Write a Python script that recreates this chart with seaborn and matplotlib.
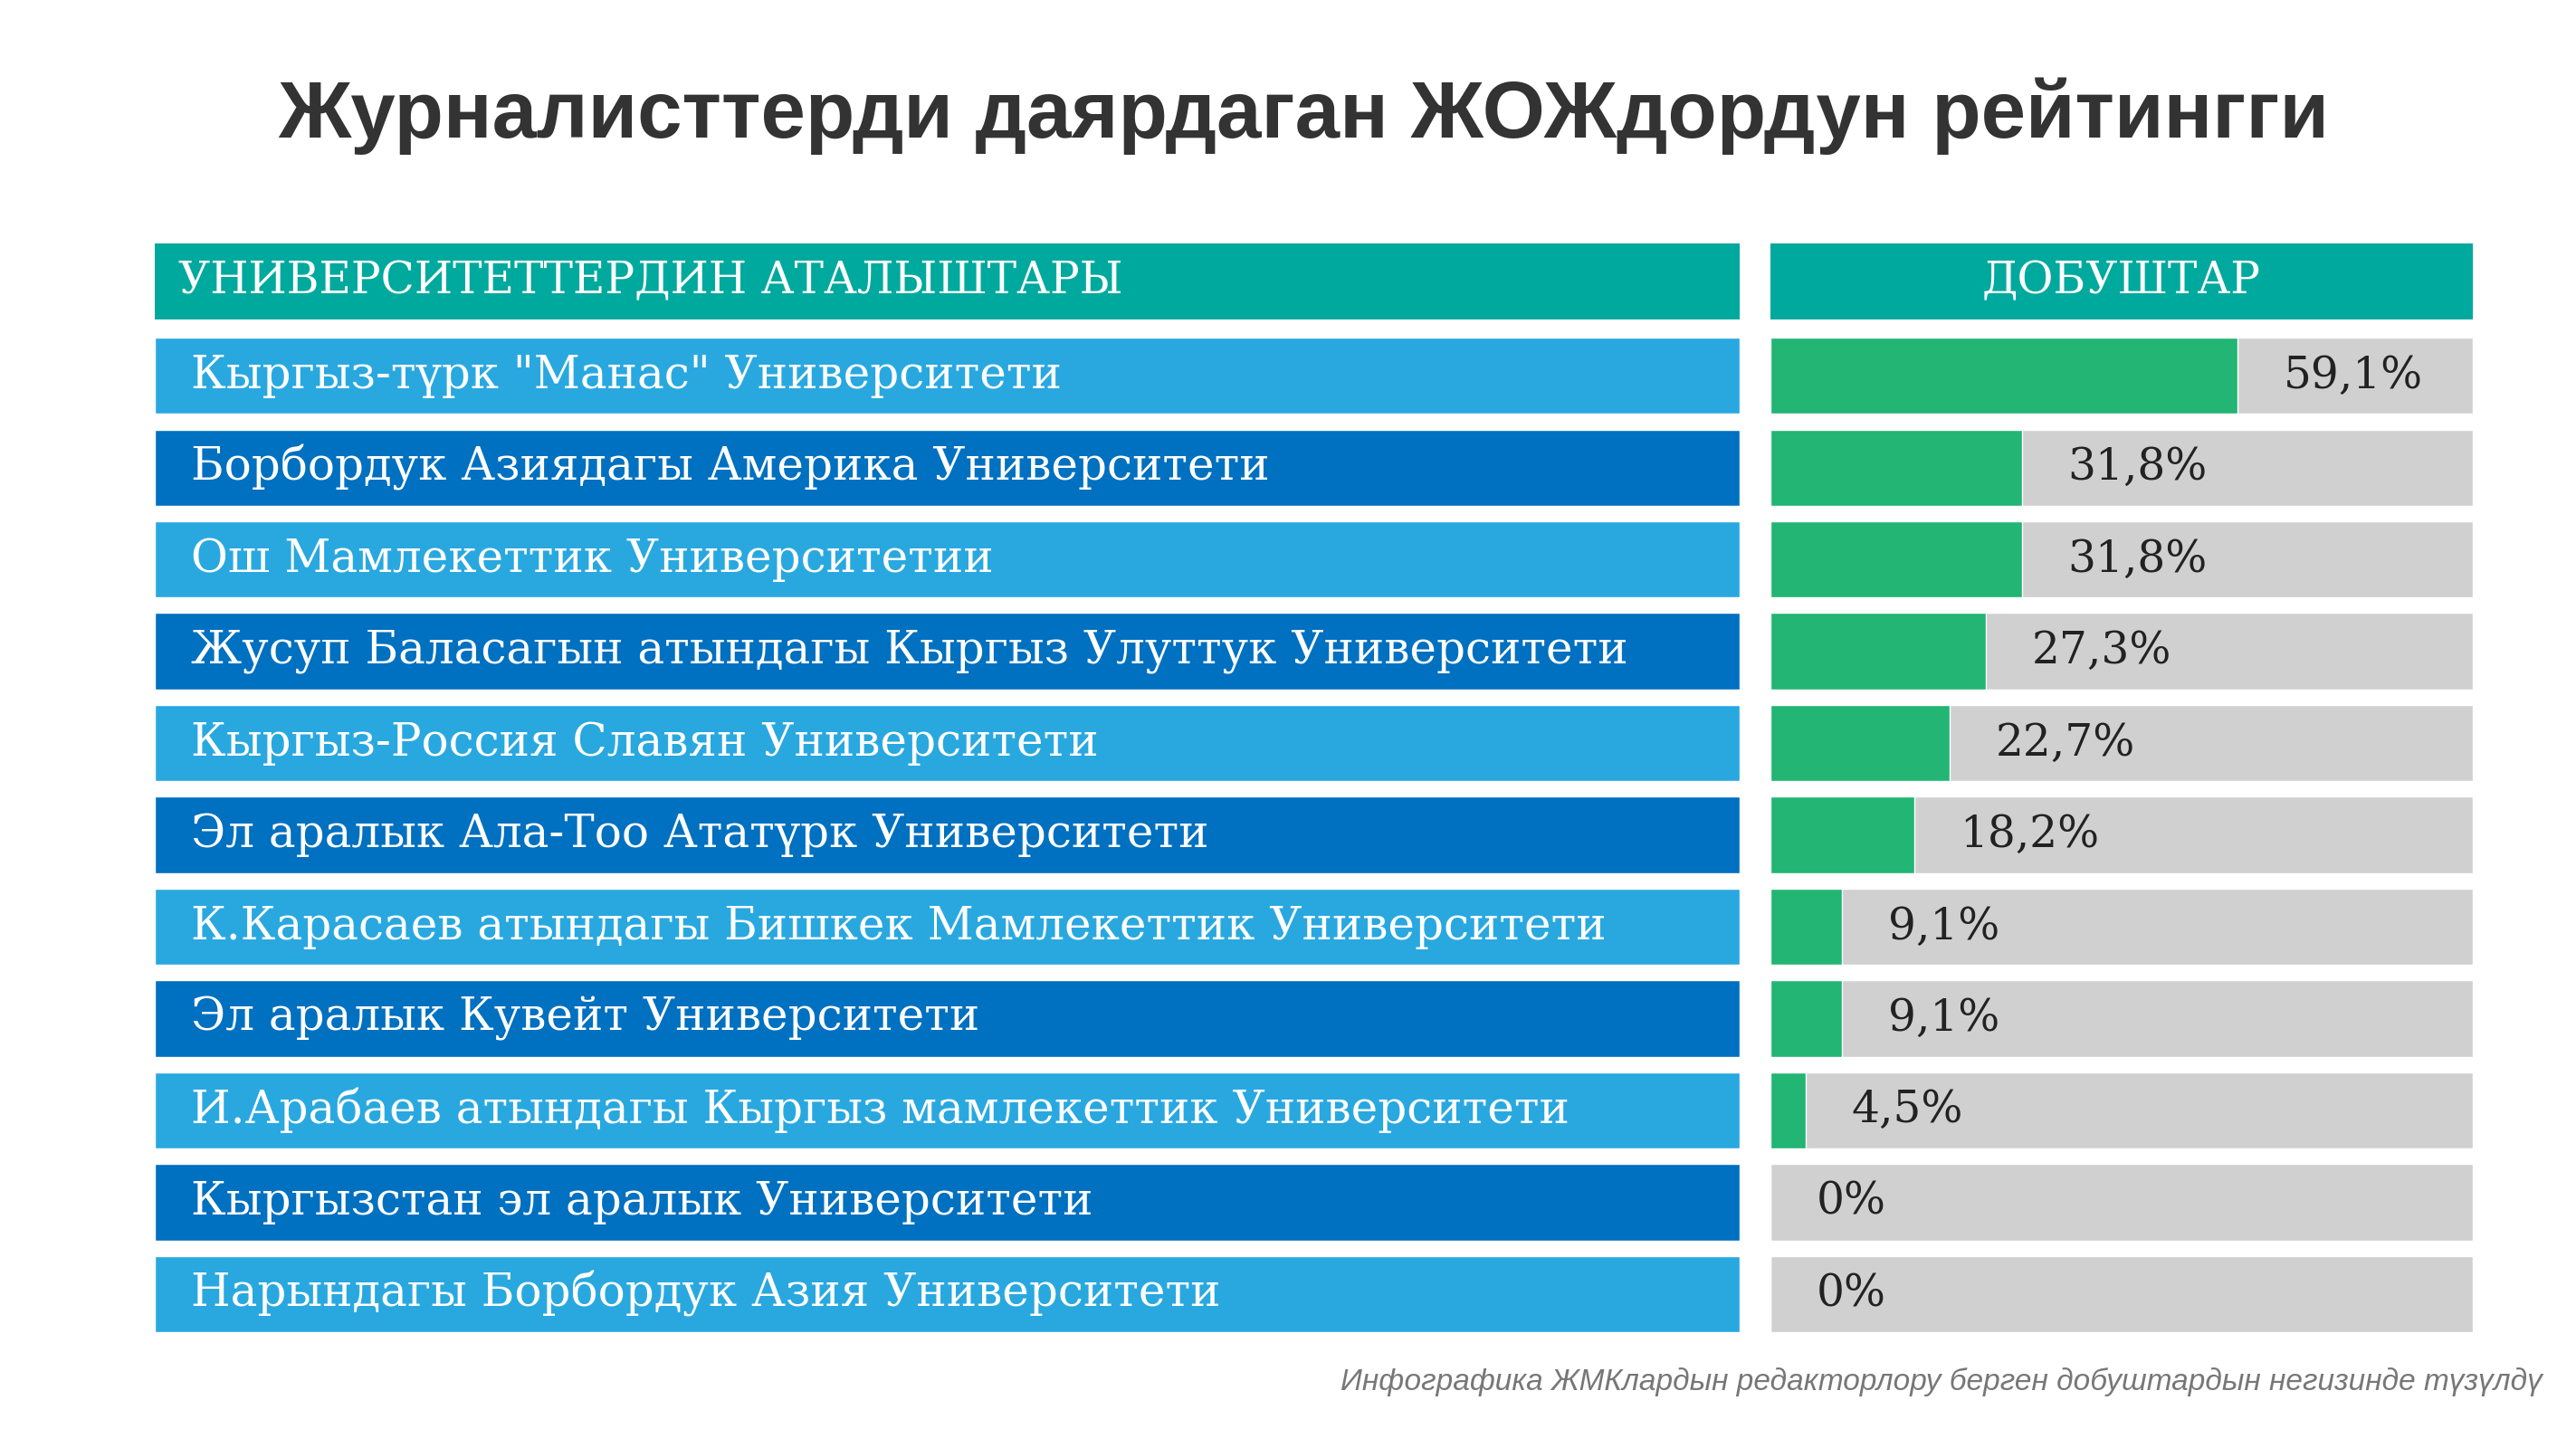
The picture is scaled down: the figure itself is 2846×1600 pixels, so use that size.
import matplotlib
matplotlib.use("Agg")
import matplotlib.pyplot as plt
import pandas as pd
import seaborn as sns

UNIVERSITIES = [
    'Кыргыз-түрк "Манас" Университети',
    "Борбордук Азиядагы Америка Университети",
    "Ош Мамлекеттик Университетии",
    "Жусуп Баласагын атындагы Кыргыз Улуттук Университети",
    "Кыргыз-Россия Славян Университети",
    "Эл аралык Ала-Тоо Ататүрк Университети",
    "К.Карасаев атындагы Бишкек Мамлекеттик Университети",
    "Эл аралык Кувейт Университети",
    "И.Арабаев атындагы Кыргыз мамлекеттик Университети",
    "Кыргызстан эл аралык Университети",
    "Нарындагы Борбордук Азия Университети",
]
VOTES = [59.1, 31.8, 31.8, 27.3, 22.7, 18.2, 9.1, 9.1, 4.5, 0, 0]
VOTE_LABELS = ["59,1%", "31,8%", "31,8%", "27,3%", "22,7%", "18,2%",
               "9,1%", "9,1%", "4,5%", "0%", "0%"]

TITLE = "Журналисттерди даярдаган ЖОЖдордун рейтингги"
HEAD_LEFT = "УНИВЕРСИТЕТТЕРДИН АТАЛЫШТАРЫ"
HEAD_RIGHT = "ДОБУШТАР"
FOOTER = "Инфографика ЖМКлардын редакторлору берген добуштардын негизинде түзүлдү"

TEAL = "#00A99D"
LIGHT = "#29A8E0"
DARK = "#0070C0"
GREEN = "#22B573"
GRAY = "#D0D0D0"
XMAX = 88.8


def main() -> None:
    sns.set_theme(style="white")
    plt.rcParams["font.family"] = ["DejaVu Serif"]

    df = pd.DataFrame({"name": UNIVERSITIES, "votes": VOTES})
    n = len(df)

    fig = plt.figure(figsize=(28.46, 16), dpi=100)
    W, H = 1547, 875

    def frac(x0, y0, x1, y1):
        return [x0 / W, 1 - y1 / H, (x1 - x0) / W, (y1 - y0) / H]

    fig.text(783 / W, 1 - 70 / H, TITLE, ha="center", va="center",
             fontsize=64, fontweight="bold", color="#333333",
             family="Liberation Sans")

    # header
    hl = fig.add_axes(frac(93, 147, 1045, 193))
    hr = fig.add_axes(frac(1063, 147, 1485, 193))
    for a in (hl, hr):
        a.set_facecolor(TEAL)
        a.set_xticks([]); a.set_yticks([])
        for s in a.spines.values():
            s.set_visible(False)
    hl.text(0.015, 0.5, HEAD_LEFT, color="white", fontsize=35, va="center",
            transform=hl.transAxes)
    hr.text(0.5, 0.5, HEAD_RIGHT, color="white", fontsize=35, va="center",
            ha="center", transform=hr.transAxes)

    top, bot = 204, 805
    # left names panel
    axl = fig.add_axes(frac(93, top, 1045, bot))
    colors = [LIGHT if i % 2 == 0 else DARK for i in range(n)]
    axl.barh(range(n), [1] * n, height=0.83, color=colors, left=0)
    for i, name in enumerate(df["name"]):
        axl.text(0.023, i, name, color="white", fontsize=36, va="center")
    axl.set_xlim(0, 1)
    axl.set_ylim(n - 0.585, -0.415)
    axl.axis("off")

    # right votes panel
    axr = fig.add_axes(frac(1063, top, 1485, bot))
    axr.barh(range(n), [XMAX] * n, height=0.83, color=GRAY)
    sns.barplot(data=df, x="votes", y="name", orient="h", color=GREEN,
                width=0.83, saturation=1, ax=axr)
    for i, (v, lab) in enumerate(zip(VOTES, VOTE_LABELS)):
        axr.text(v + 5.8, i, lab, color="#222222", fontsize=35,
                 va="center", ha="left")
    axr.set_xlim(0, XMAX)
    axr.set_ylim(n - 0.585, -0.415)
    axr.axis("off")

    fig.text(1527 / W, 1 - 835 / H, FOOTER, ha="right", va="center",
             fontsize=24, style="italic", color="#777777",
             family="Liberation Sans")

    fig.savefig("out.png", dpi=100, facecolor="white")
    plt.close(fig)


if __name__ == "__main__":
    main()
